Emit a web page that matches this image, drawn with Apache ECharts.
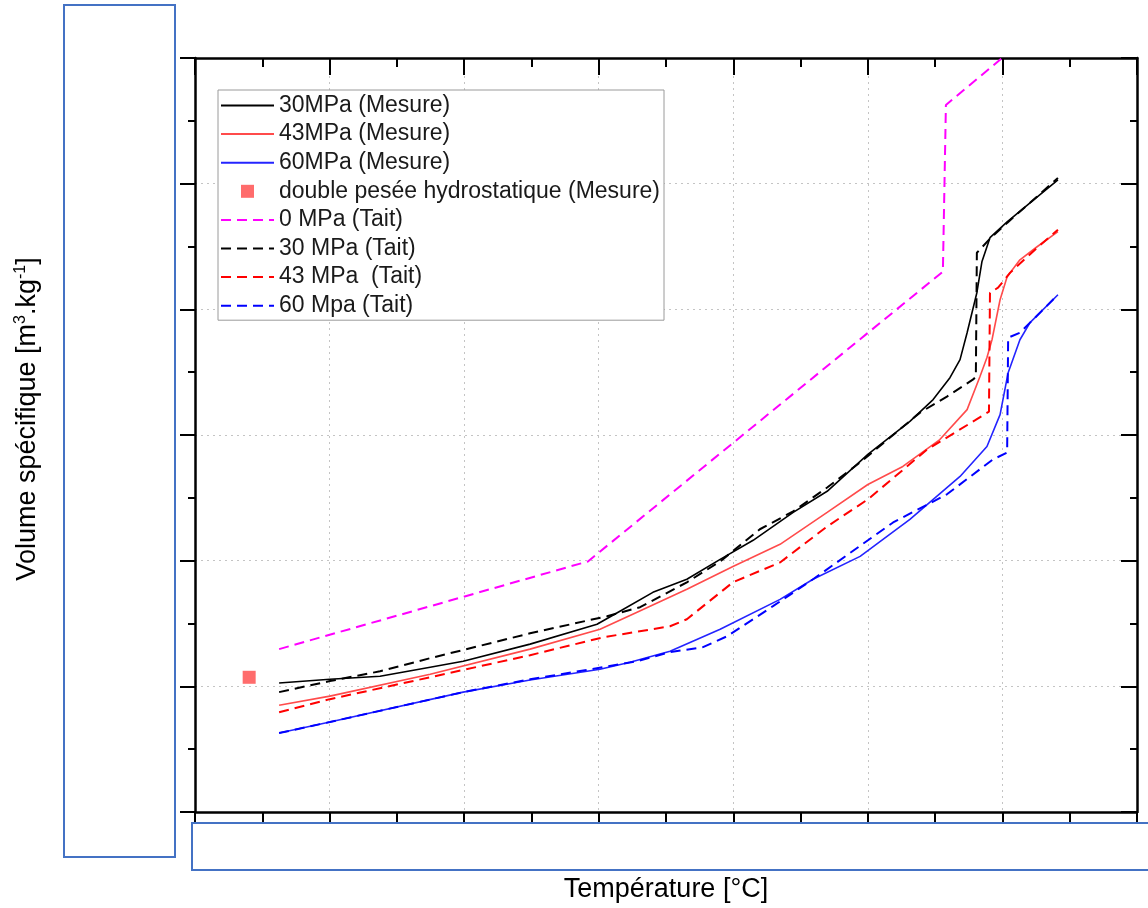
<!DOCTYPE html>
<html>
<head>
<meta charset="utf-8">
<script src="https://cdn.jsdelivr.net/npm/echarts@6/dist/echarts.min.js"></script>
<style>
html,body{margin:0;padding:0;background:#fff;}
#chart{width:1148px;height:908px;}
</style>
</head>
<body>
<div id="chart"></div>
<script>
// Axis ranges (tick labels are masked in the reference)
const xRange = [0, 280, 40];
const yRange = [0.90, 1.20, 0.05];

// Series names
const names = ['30MPa (Mesure)', '43MPa (Mesure)', '60MPa (Mesure)', 'double pesée hydrostatique (Mesure)',
  '0 MPa (Tait)', '30 MPa (Tait)', '43 MPa  (Tait)', '60 Mpa (Tait)'];

// Measured curves [T, v]
const mes30 = [[25.0,0.9513],[40.1,0.9528],[55.0,0.9540],[69.9,0.9576],[79.7,0.9600],[99.6,0.9668],[119.5,0.9747],
  [126.3,0.9799],[136.1,0.9874],[146.2,0.9926],[156.1,1.0005],[165.9,1.0081],[177.8,1.0192],[187.9,1.0276],
  [200.0,1.0423],[212.5,1.0554],[219.4,1.0641],[224.4,1.0728],[227.4,1.0800],[229.5,1.0907],[232.4,1.1066],
  [233.9,1.1189],[236.3,1.1285],[241.4,1.1348],[248.2,1.1424],[256.5,1.1515]];
const mes43 = [[25.0,0.9425],[40.1,0.9461],[69.9,0.9548],[99.6,0.9648],[120.4,0.9727],[131.4,0.9795],[146.2,0.9886],
  [159.9,0.9977],[173.9,1.0065],[187.9,1.0192],[200.0,1.0303],[210.4,1.0375],[221.4,1.0482],[229.5,1.0601],
  [233.3,1.0732],[235.4,1.0808],[236.9,1.0879],[239.3,1.1038],[241.4,1.1130],[245.2,1.1197],[250.3,1.1249],[256.5,1.1309]];
const mes60 = [[25.0,0.9314],[40.1,0.9358],[79.7,0.9477],[99.6,0.9525],[120.4,0.9568],[129.3,0.9596],[141.2,0.9640],
  [156.1,0.9727],[173.9,0.9846],[183.7,0.9926],[197.7,1.0017],[212.5,1.0164],[227.4,1.0335],[235.4,1.0454],
  [239.3,1.0581],[241.7,1.0748],[245.2,1.0879],[248.2,1.0947],[256.5,1.1058]];
const pesee = [[16.1,0.9536]];

// Tait model curves [T, v]
const tait0 = [[25.0,0.9648],[116.8,0.9997],[222.3,1.1150],[223.2,1.1813],[239.9,1.2000]];
const tait30 = [[25.0,0.9477],[40.1,0.9521],[55.0,0.9560],[69.9,0.9612],[99.6,0.9711],[122.5,0.9779],[132.3,0.9815],
  [146.2,0.9914],[156.1,0.9997],[167.9,1.0125],[177.8,1.0196],[187.9,1.0291],[197.7,1.0391],[215.5,1.0589],
  [223.5,1.0653],[231.3,1.0721],[232.1,1.0732],[232.4,1.1225],[236.3,1.1281],[241.4,1.1344],[248.2,1.1424],[256.5,1.1523]];
const tait43 = [[25.0,0.9397],[40.1,0.9449],[69.9,0.9536],[99.6,0.9624],[121.3,0.9695],[141.2,0.9739],[146.2,0.9767],
  [159.9,0.9914],[173.9,0.9993],[187.9,1.0136],[200.0,1.0244],[217.6,1.0442],[231.8,1.0558],[236.0,1.0593],
  [236.3,1.1066],[238.7,1.1086],[242.3,1.1146],[250.3,1.1245],[256.5,1.1317]];
const tait60 = [[25.0,0.9314],[40.1,0.9358],[79.7,0.9477],[99.6,0.9528],[121.3,0.9576],[131.4,0.9600],[141.2,0.9636],
  [151.0,0.9656],[158.1,0.9699],[165.9,0.9767],[171.8,0.9819],[183.7,0.9926],[207.5,1.0152],[223.5,1.0264],
  [237.2,1.0403],[241.4,1.0430],[241.7,1.0887],[245.2,1.0907],[248.2,1.0947],[256.5,1.1058]];

const FONT = "'Liberation Sans', Arial, sans-serif";
const chart = echarts.init(document.getElementById('chart'), null, {renderer: 'canvas'});

function lineSeries(name, data, color, dashed, width) {
  return {
    name: name, type: 'line', data: data, symbol: 'none', smooth: false,
    xAxisIndex: 0, yAxisIndex: 0,
    lineStyle: {color: color, width: width, type: dashed ? [10, 6] : 'solid'},
    itemStyle: {color: color},
    emphasis: {disabled: true}, animation: false
  };
}

function xAxisCfg(pos, inside, len, minLen, split, nameCfg) {
  return Object.assign({
    type: 'value', position: pos, min: xRange[0], max: xRange[1], interval: xRange[2],
    axisLine: {show: true, onZero: false, lineStyle: {color: '#000', width: 2.5}},
    axisTick: {show: true, inside: inside, length: len, lineStyle: {color: '#000', width: 2}},
    minorTick: {show: true, splitNumber: 2, length: minLen, lineStyle: {color: '#000', width: 2}},
    axisLabel: {show: false},
    splitLine: {show: split, lineStyle: {color: '#c4c4c4', width: 1, type: [2, 4]}},
    minorSplitLine: {show: false}
  }, nameCfg || {});
}
function yAxisCfg(pos, inside, len, minLen, split, nameCfg) {
  return Object.assign({
    type: 'value', position: pos, min: yRange[0], max: yRange[1], interval: yRange[2],
    axisLine: {show: true, onZero: false, lineStyle: {color: '#000', width: 2.5}},
    axisTick: {show: true, inside: inside, length: len, lineStyle: {color: '#000', width: 2}},
    minorTick: {show: true, splitNumber: 2, length: minLen, lineStyle: {color: '#000', width: 2}},
    axisLabel: {show: false},
    splitLine: {show: split, lineStyle: {color: '#c4c4c4', width: 1, type: [2, 4]}},
    minorSplitLine: {show: false}
  }, nameCfg || {});
}

const hideSym = {opacity: 0};
const option = {
  backgroundColor: '#fff',
  animation: false,
  grid: {left: 195, right: 11, top: 58, bottom: 95, containLabel: false},
  legend: {
    orient: 'vertical', left: 218, top: 90,
    itemWidth: 53, itemHeight: 13, itemGap: 5.6,
    padding: [4, 4, 3, 2],
    symbolKeepAspect: true,
    borderColor: '#9a9a9a', borderWidth: 1, backgroundColor: '#fff',
    textStyle: {fontFamily: FONT, fontSize: 23, color: '#1a1a1a'},
    selectedMode: false,
    data: [
      {name: names[0], itemStyle: hideSym}, {name: names[1], itemStyle: hideSym},
      {name: names[2], itemStyle: hideSym},
      {name: names[3], icon: 'path://M0,0L10,0L10,10L0,10Z'},
      {name: names[4], itemStyle: hideSym}, {name: names[5], itemStyle: hideSym},
      {name: names[6], itemStyle: hideSym}, {name: names[7], itemStyle: hideSym}
    ]
  },
  xAxis: [
    xAxisCfg('bottom', false, 10, 10, true, {
      name: 'Température [°C]', nameLocation: 'middle', nameGap: 64,
      nameTextStyle: {fontFamily: FONT, fontSize: 27, color: '#000'}
    }),
    xAxisCfg('top', true, 17, 9, false)
  ],
  yAxis: [
    yAxisCfg('left', false, 15, 7, true, {
      name: 'Volume spécifique [m{sup|3}.kg{sup|-1}]', nameLocation: 'middle', nameGap: 152, nameRotate: 90,
      nameTextStyle: {fontFamily: FONT, fontSize: 27, color: '#000', padding: [0, 0, 0, 32],
        rich: {sup: {fontFamily: FONT, fontSize: 16, color: '#000', padding: [0, 0, 14, 0]}}}
    }),
    yAxisCfg('right', true, 16, 7, false)
  ],
  graphic: [
    {type: 'rect', z: 100, shape: {x: 64, y: 5, width: 111, height: 852},
      style: {fill: '#fff', stroke: '#4472C4', lineWidth: 2}},
    {type: 'rect', z: 100, shape: {x: 192, y: 823, width: 970, height: 47},
      style: {fill: '#fff', stroke: '#4472C4', lineWidth: 2}}
  ],
  series: [
    lineSeries(names[0], mes30, '#000000', false, 1.6),
    lineSeries(names[1], mes43, '#ff4b4b', false, 1.6),
    lineSeries(names[2], mes60, '#2424ff', false, 1.6),
    {name: names[3], type: 'scatter', data: pesee, symbol: 'rect', symbolSize: 13,
      itemStyle: {color: '#ff4747'}, emphasis: {disabled: true}},
    lineSeries(names[4], tait0, '#ff00ff', true, 2),
    lineSeries(names[5], tait30, '#000000', true, 2),
    lineSeries(names[6], tait43, '#ff0000', true, 2),
    lineSeries(names[7], tait60, '#0000ff', true, 2)
  ]
};
chart.setOption(option);
</script>
</body>
</html>
